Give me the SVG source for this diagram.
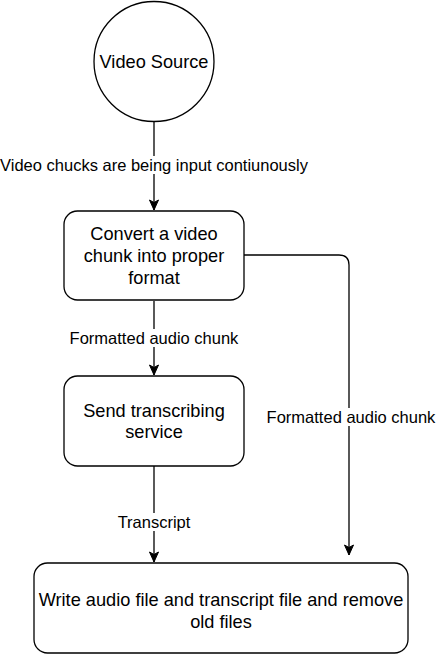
<svg xmlns="http://www.w3.org/2000/svg" width="437" height="654" viewBox="0 0 437 654">
<style>
.n{fill:#fff;stroke:#000;stroke-width:1.3}
.t{font-family:"Liberation Sans",Arial,sans-serif;font-size:18.2px;fill:#000;text-anchor:middle}
.l{font-family:"Liberation Sans",Arial,sans-serif;font-size:16.5px;fill:#000;text-anchor:middle}
.e{fill:none;stroke:#000;stroke-width:1.3}
.bg{fill:#fff}
</style>
<defs>
<marker id="a" markerUnits="userSpaceOnUse" markerWidth="12" markerHeight="12" viewBox="0 0 12 12" refX="11" refY="6" orient="auto">
<path d="M11,6 L1,1.5 L3.5,6 L1,10.5 Z" fill="#000" stroke="#000" stroke-width="1"/>
</marker>
</defs>
<rect width="437" height="654" fill="#fff"/>
<g id="connectors">
<path class="e" d="M154,122 V210" marker-end="url(#a)"/>
<path class="e" d="M154,301 V375" marker-end="url(#a)"/>
<path class="e" d="M154,466 V562" marker-end="url(#a)"/>
<path class="e" d="M244,255 H339 Q349,255 349,265 V555" marker-end="url(#a)"/>
<rect class="bg" x="0" y="156" width="310" height="18"/>
<text class="l" x="154" y="171">Video chucks are being input contiunously</text>
<rect class="bg" x="68" y="329" width="172" height="18"/>
<text class="l" x="154" y="344">Formatted audio chunk</text>
<rect class="bg" x="266" y="408" width="170" height="18"/>
<text class="l" x="351" y="422.5">Formatted audio chunk</text>
<rect class="bg" x="116" y="513" width="76" height="18"/>
<text class="l" x="154" y="527.5">Transcript</text>
</g>
<g id="video-source">
<circle class="n" cx="154" cy="61.5" r="60"/>
<text class="t" x="154" y="68">Video Source</text>
</g>
<g id="convert">
<rect class="n" x="64" y="211" width="180" height="89" rx="13.5"/>
<text class="t" x="154" y="240.4">Convert a video</text>
<text class="t" x="154" y="262">chunk into proper</text>
<text class="t" x="154" y="283.6">format</text>
</g>
<g id="transcribe">
<rect class="n" x="64" y="376" width="180" height="90" rx="13.5"/>
<text class="t" x="154" y="416.7">Send transcribing</text>
<text class="t" x="154" y="438.3">service</text>
</g>
<g id="write">
<rect class="n" x="34" y="563" width="374" height="90" rx="13.5"/>
<text class="t" x="221" y="606">Write audio file and transcript file and remove</text>
<text class="t" x="221" y="627.5">old files</text>
</g>
</svg>
